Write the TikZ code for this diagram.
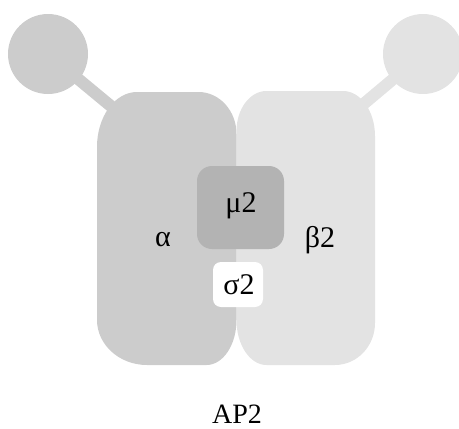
\documentclass[tikz,border=0pt]{standalone}
\usepackage{fontspec}
\setmainfont{Liberation Serif}
\definecolor{alphagray}{HTML}{CCCCCC}
\definecolor{betagray}{HTML}{E3E3E3}
\definecolor{mugray}{HTML}{B3B3B3}
\begin{document}
\begin{tikzpicture}[x=1pt,y=-1pt,
  ear/.style={circle,inner sep=0pt,minimum size=80pt},
  stalk/.style={line width=12pt},
  lbl/.style={font=\fontsize{30}{34}\selectfont,inner sep=0pt},
  caption/.style={font=\fontsize{28}{32}\selectfont,inner sep=0pt}]
\useasboundingbox (0,0) rectangle (459,429);
% appendage domains and their hinges
\node[ear,fill=alphagray] (earL) at (48,54) {};
\node[ear,fill=betagray] (earR) at (423,54) {};
\coordinate (hingeL) at (118,112);
\coordinate (hingeR) at (354,112);
\draw[stalk,alphagray] (earL.center) -- (hingeL);
\draw[stalk,betagray] (earR.center) -- (hingeR);
% large trunk subunits
\fill[alphagray] (97,147) -- (97,320) .. controls (97,344.8) and (119.4,365) .. (147,365)
  -- (206.5,365) .. controls (223.1,365) and (236.5,344.8) .. (236.5,320)
  -- (236.5,134) .. controls (236.5,110.8) and (219.5,92) .. (198.5,92)
  -- (137,92) .. controls (114.9,92) and (97,116.6) .. (97,147) -- cycle;
\fill[betagray] (236.5,131) -- (236.5,320) .. controls (236.5,344.8) and (249.9,365) .. (266.5,365)
  -- (335,365) .. controls (357.1,365) and (375,346.2) .. (375,323)
  -- (375,136) .. controls (375,111.2) and (360.7,91) .. (343,91)
  -- (266.5,91) .. controls (249.9,91) and (236.5,108.9) .. (236.5,131) -- cycle;
% medium and small subunits
\fill[mugray,rounded corners=15pt] (197,166) rectangle (284,249);
\fill[white,rounded corners=8pt] (213,262) rectangle (263,307);
% labels
\node[lbl] (mu) at (241,206) {μ2};
\node[lbl] (sigma) at (239,285) {σ2};
\node[lbl] (alpha) at (163,240) {α};
\node[lbl] (beta) at (320,240) {β2};
\node[caption] (title) at (237,414) {AP2};
\end{tikzpicture}
\end{document}
